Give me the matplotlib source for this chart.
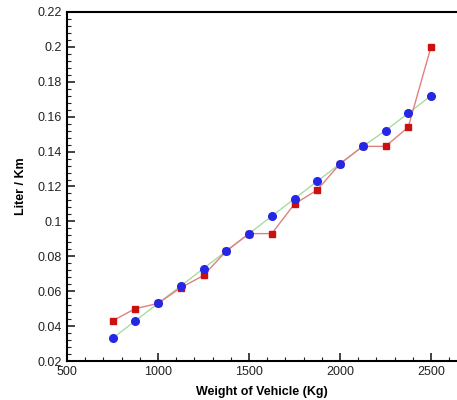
import matplotlib.pyplot as plt
from matplotlib.ticker import MultipleLocator

plt.rcParams["font.family"] = ["Liberation Sans", "DejaVu Sans"]

# ── Data ─────────────────────────────────────────────────────────
weight = [750, 875, 1000, 1125, 1250, 1375, 1500, 1625, 1750, 1875,
          2000, 2125, 2250, 2375, 2500]
liter_red = [0.043, 0.050, 0.053, 0.062, 0.069, 0.083, 0.093, 0.093,
             0.110, 0.118, 0.133, 0.143, 0.143, 0.154, 0.200]
liter_blue = [0.033, 0.043, 0.053, 0.063, 0.073, 0.083, 0.093, 0.103,
              0.113, 0.123, 0.133, 0.143, 0.152, 0.162, 0.172]

# ── Figure ───────────────────────────────────────────────────────
fig = plt.figure(figsize=(4.57, 4.00), dpi=100)
ax = fig.add_axes([67 / 457, 1 - 361 / 400, 1 - 67 / 457, (361 - 12) / 400])

ax.plot(weight, liter_blue, color="#a8dca0", lw=1, zorder=2)
ax.plot(weight, liter_red, color="#e08080", lw=1, zorder=3)
ax.plot(weight, liter_red, "s", color="#cc1010", ms=4.5, zorder=4)
ax.plot(weight, liter_blue, "o", color="#2626e6", ms=5.5, zorder=5)

ax.set_xlim(500, 500 + (457 - 67) / 91 * 500)
ax.xaxis.set_major_locator(MultipleLocator(500))
ax.xaxis.set_minor_locator(MultipleLocator(100))
ax.yaxis.set_major_locator(MultipleLocator(0.02))
ax.yaxis.set_minor_locator(MultipleLocator(0.004))
ax.set_yticks(ax.get_yticks())
ax.set_yticklabels([f"{v:g}" for v in ax.get_yticks()])
ax.set_ylim(0.02, 0.22)

ax.tick_params(which="both", direction="in", top=False, right=False,
               labelsize=9, colors="#222222")
ax.tick_params(which="major", length=6, width=1.2)
ax.tick_params(which="minor", length=3, width=0.8)
for s in ["left", "bottom", "top"]:
    ax.spines[s].set_linewidth(1.5)
ax.spines["right"].set_visible(False)

ax.set_xlabel("Weight of Vehicle (Kg)", fontsize=9, fontweight="bold", labelpad=6)
ax.set_ylabel("Liter / Km", fontsize=9, fontweight="bold", labelpad=8)

fig.savefig("out.png", dpi=100)
